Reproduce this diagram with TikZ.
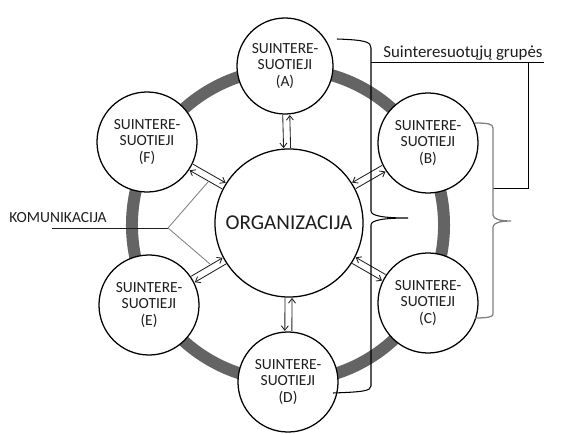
\documentclass[tikz,border=0pt]{standalone}
\usepackage{fontspec}
\setmainfont{Carlito}
\usetikzlibrary{calc,arrows.meta}
\definecolor{ringgray}{HTML}{646464}
\definecolor{inkgray}{HTML}{1E1E1E}
\tikzset{
  party/.style={circle,draw,line width=0.9pt,fill=white,minimum size=2.5cm,inner sep=0pt,
    align=center,font=\fontsize{11}{12}\selectfont,text=inkgray},
  flow/.style={-{Straight Barb[length=3.2pt,width=5pt]},line width=0.6pt,draw=inkgray},
  tag/.style={font=\fontsize{11}{12}\selectfont,text=inkgray,anchor=base}
}
\begin{document}
\begin{tikzpicture}[x=0.025cm,y=-0.025cm]
	\useasboundingbox (0,0) rectangle (561,434);
	\draw[ringgray,line width=8.5pt] (288,225) circle[radius=3.9cm];
	
	\node[party,minimum size=3.7cm,font=\fontsize{15}{18}\selectfont] (O) at (289,223) {ORGANIZACIJA};
	\node[party,minimum size=2.4cm] (A) at (285,66) {SUINTERE-\\SUOTIEJI\\(A)};
	\node[party] (B) at (428,143) {SUINTERE-\\SUOTIEJI\\(B)};
	\node[party] (C) at (428,303) {SUINTERE-\\SUOTIEJI\\(C)};
	\node[party] (D) at (288,382) {SUINTERE-\\SUOTIEJI\\(D)};
	\node[party] (E) at (149,305) {SUINTERE-\\SUOTIEJI\\(E)};
	\node[party] (F) at (147,142) {SUINTERE-\\SUOTIEJI\\(F)};
	
	\foreach \n/\s/\t/\r in {A/90/-90/34.9pt,B/90/-90/36.3pt,C/90/-90/36.3pt,D/90/-90/36.3pt,E/-90/90/36.3pt,F/-90/90/36.3pt}{
		\draw[flow,shorten <=\r,shorten >=53.3pt] ($(\n.center)!2.5pt!\t:(O.center)$) -- ($(O.center)!2.5pt!\s:(\n.center)$);
		\draw[flow,shorten <=53.3pt,shorten >=\r] ($(O.center)!2.5pt!\t:(\n.center)$) -- ($(\n.center)!2.5pt!\s:(O.center)$);
	}
	
	\node[tag] (kom) at (58,222) {KOMUNIKACIJA};
	\coordinate (kstart) at (52,228);
	\coordinate (kfork) at (168,228);
	\coordinate (kup) at (208,182);
	\coordinate (kdown) at (210,264);
	\draw[inkgray,line width=0.7pt] (kstart) -- (kfork);
	\draw[gray,line width=0.6pt] (kup) -- (kfork) -- (kdown);
	
	\node[tag,font=\fontsize{12}{14}\selectfont] (grp) at (463,57) {Suinteresuotųjų grupės};
	\coordinate (gleft) at (371,62);
	\coordinate (gright) at (544,62);
	\coordinate (gcorner) at (528,62);
	\coordinate (gbend) at (528,188);
	\coordinate (gjoin) at (493,188);
	\draw[line width=0.7pt] (gleft) -- (gright);
	\draw[line width=0.7pt] (gjoin) -- (gbend) -- (gcorner);
	
	\draw[line width=0.75pt] (337,39) .. controls (366,40) and (371,42) .. (371,48) -- (371,211)
		.. controls (371,216) and (384,218) .. (408,218) .. controls (384,218) and (371,220) .. (371,225)
		-- (371,386) .. controls (371,391) and (362,392) .. (333,393);
	\draw[gray,line width=0.9pt] (475,123) .. controls (488,123) and (493,124) .. (493,128) -- (493,215)
		.. controls (493,219) and (500,221) .. (511,221) .. controls (500,221) and (493,223) .. (493,227)
		-- (493,314) .. controls (493,317) and (488,318) .. (475,318);
\end{tikzpicture}
\end{document}
